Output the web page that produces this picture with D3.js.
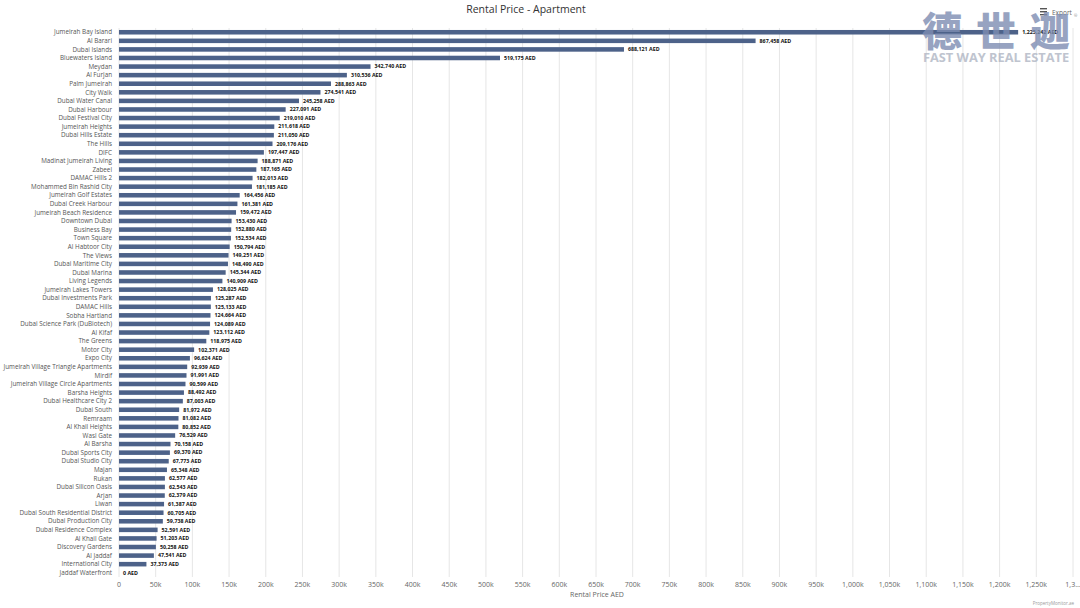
<!DOCTYPE html>
<html>
<head>
<meta charset="utf-8">
<script src="https://cdn.jsdelivr.net/npm/d3@7"></script>
<style>
  body { margin: 0; background: #fff; font-family: "Open Sans", sans-serif; }
</style>
</head>
<body>
<div id="chart"></div>
<script>
const areas = [
  "Jumeirah Bay Island", "Al Barari", "Dubai Islands", "Bluewaters Island", "Meydan",
  "Al Furjan", "Palm Jumeirah", "City Walk", "Dubai Water Canal", "Dubai Harbour",
  "Dubai Festival City", "Jumeirah Heights", "Dubai Hills Estate", "The Hills", "DIFC",
  "Madinat Jumeirah Living", "Zabeel", "DAMAC Hills 2", "Mohammed Bin Rashid City", "Jumeirah Golf Estates",
  "Dubai Creek Harbour", "Jumeirah Beach Residence", "Downtown Dubai", "Business Bay", "Town Square",
  "Al Habtoor City", "The Views", "Dubai Maritime City", "Dubai Marina", "Living Legends",
  "Jumeirah Lakes Towers", "Dubai Investments Park", "DAMAC Hills", "Sobha Hartland", "Dubai Science Park (DuBiotech)",
  "Al Kifaf", "The Greens", "Motor City", "Expo City", "Jumeirah Village Triangle Apartments",
  "Mirdif", "Jumeirah Village Circle Apartments", "Barsha Heights", "Dubai Healthcare City 2", "Dubai South",
  "Remraam", "Al Khail Heights", "Wasl Gate", "Al Barsha", "Dubai Sports City",
  "Dubai Studio City", "Majan", "Rukan", "Dubai Silicon Oasis", "Arjan",
  "Liwan", "Dubai South Residential District", "Dubai Production City", "Dubai Residence Complex", "Al Khail Gate",
  "Discovery Gardens", "Al Jaddaf", "International City", "Jaddaf Waterfront"
];

const rents = [
  1225242, 867458, 688121, 519175, 342740,
  310536, 288863, 274541, 245258, 227091,
  219010, 211618, 211050, 209176, 197447,
  188871, 187165, 182013, 181185, 164456,
  161381, 159472, 153430, 152880, 152534,
  150794, 149251, 148490, 145344, 140909,
  128025, 125287, 125133, 124664, 124089,
  123112, 118975, 102371, 96624, 92939,
  91991, 90599, 88492, 87003, 81972,
  81082, 80852, 76529, 70158, 69370,
  67773, 65348, 62577, 62543, 62379,
  61387, 60705, 59738, 52591, 51203,
  50258, 47541, 37373, 0
];

const xTicks = d3.range(0, 1300001, 50000);

const width = 1080;
const height = 608;
const margin = { top: 28, right: 7, bottom: 31, left: 119 };

const svg = d3.select("#chart").append("svg")
  .attr("width", width)
  .attr("height", height)
  .style("font-family", "'Open Sans', sans-serif");

const x = d3.scaleLinear()
  .domain([0, 1300000])
  .range([margin.left, width - margin.right]);

const y = d3.scaleBand()
  .domain(areas)
  .range([margin.top, height - margin.bottom])
  .paddingInner(0.47)
  .paddingOuter(0.23);

// vertical grid lines
svg.append("g")
  .selectAll("line")
  .data(xTicks)
  .join("line")
  .attr("x1", d => x(d))
  .attr("x2", d => x(d))
  .attr("y1", margin.top)
  .attr("y2", height - margin.bottom)
  .style("stroke", "#e6e6e6")
  .style("stroke-width", 1);

// x axis tick labels
const fmtTick = d => d === 0 ? "0" : d3.format(",")(d / 1000) + "k";
svg.append("g")
  .selectAll("text")
  .data(xTicks)
  .join("text")
  .attr("x", d => x(d))
  .attr("y", 587)
  .attr("text-anchor", "middle")
  .style("font-size", "7px")
  .style("fill", "#666")
  .text(d => d === 1300000 ? "1,3…" : fmtTick(d));

svg.append("text")
  .attr("x", 597)
  .attr("y", 597)
  .attr("text-anchor", "middle")
  .style("font-size", "7px")
  .style("fill", "#666")
  .text("Rental Price AED");

// category labels
svg.append("g")
  .selectAll("text")
  .data(areas)
  .join("text")
  .attr("x", margin.left - 7)
  .attr("y", d => y(d) + y.bandwidth() / 2)
  .attr("dy", "0.35em")
  .attr("text-anchor", "end")
  .style("font-size", "6.3px")
  .style("fill", "#555")
  .text(d => d);

// bars
svg.append("g")
  .selectAll("rect")
  .data(areas)
  .join("rect")
  .attr("x", x(0))
  .attr("y", d => y(d))
  .attr("width", (d, i) => x(rents[i]) - x(0))
  .attr("height", y.bandwidth())
  .style("fill", "#4d6289");

// value labels
svg.append("g")
  .selectAll("text")
  .data(areas)
  .join("text")
  .attr("x", (d, i) => x(rents[i]) + 4)
  .attr("y", d => y(d) + y.bandwidth() / 2)
  .attr("dy", "0.35em")
  .style("font-size", "5.3px")
  .style("font-weight", "bold")
  .style("fill", "#111")
  .text((d, i) => d3.format(",")(rents[i]) + " AED");

// title
svg.append("text")
  .attr("x", 526)
  .attr("y", 13)
  .attr("text-anchor", "middle")
  .style("font-size", "10.5px")
  .style("fill", "#333")
  .text("Rental Price - Apartment");

// export button
const exp = svg.append("g").attr("transform", "translate(1040, 8)");
[0, 3, 6].forEach(dy => {
  exp.append("rect")
    .attr("x", 0).attr("y", dy)
    .attr("width", 7).attr("height", 1.4)
    .style("fill", "#555");
});
exp.append("text")
  .attr("x", 12).attr("y", 7)
  .style("font-size", "6.5px")
  .style("fill", "#666")
  .text("Export");
exp.append("text")
  .attr("x", 34).attr("y", 9)
  .style("font-size", "4px")
  .style("fill", "#888")
  .text("®");

// watermark (characters placed one by one so none runs off the edge)
const wm = svg.append("g").style("opacity", 0.8);
wm.selectAll("text.cn")
  .data(["德", "世", "迦"])
  .join("text")
  .attr("class", "cn")
  .attr("x", (d, i) => 942 + i * 54)
  .attr("y", 46)
  .attr("text-anchor", "middle")
  .style("font-family", "'Noto Sans CJK SC', sans-serif")
  .style("font-weight", "900")
  .style("font-size", "40px")
  .style("fill", "#7e8db2")
  .text(d => d);
wm.append("text")
  .attr("x", 996)
  .attr("y", 62)
  .attr("text-anchor", "middle")
  .style("font-weight", "bold")
  .style("font-size", "12.8px")
  .style("fill", "#b0b6c4")
  .text("FAST WAY REAL ESTATE");

// footer credit
svg.append("text")
  .attr("x", 1074)
  .attr("y", 605)
  .attr("text-anchor", "end")
  .style("font-size", "4.5px")
  .style("fill", "#999")
  .text("PropertyMonitor.ae");
</script>
</body>
</html>
